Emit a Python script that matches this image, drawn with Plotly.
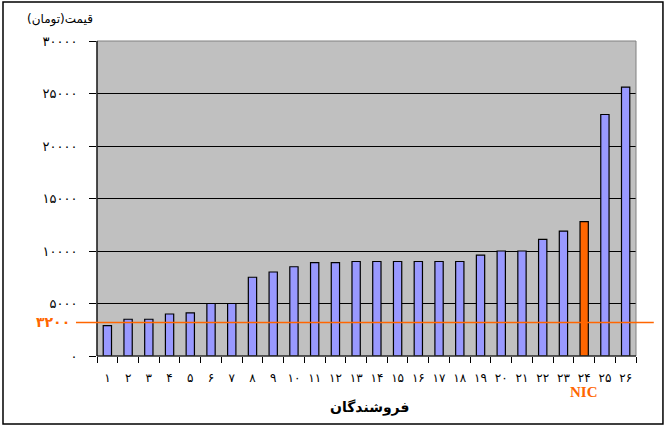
import plotly.graph_objects as go

# seller numbers (persian digits), price per seller
sellers = ["۱", "۲", "۳", "۴", "۵", "۶", "۷", "۸", "۹", "۱۰", "۱۱", "۱۲", "۱۳",
           "۱۴", "۱۵", "۱۶", "۱۷", "۱۸", "۱۹", "۲۰", "۲۱", "۲۲", "۲۳", "۲۴", "۲۵", "۲۶"]
prices = [2900, 3500, 3500, 4000, 4100, 5000, 5000, 7500, 8000, 8500, 8900, 8900, 9000,
          9000, 9000, 9000, 9000, 9000, 9600, 10000, 10000, 11100, 11900, 12800, 23000, 25600]
nic_seller = "۲۴"
reference_price = 3200
reference_label = "۳۲۰۰"

y_ticks = [0, 5000, 10000, 15000, 20000, 25000, 30000]
y_tick_labels = ["۰", "۵۰۰۰", "۱۰۰۰۰", "۱۵۰۰۰", "۲۰۰۰۰", "۲۵۰۰۰", "۳۰۰۰۰"]

ORANGE = "#FF6600"
colors = [ORANGE if s == nic_seller else "#9999FF" for s in sellers]

fig = go.Figure()
fig.add_trace(go.Bar(
    x=sellers, y=prices,
    marker=dict(color=colors, line=dict(color="black", width=1.2)),
))

fig.update_layout(
    width=669, height=430,
    margin=dict(l=97, r=33, t=41, b=74),
    paper_bgcolor="white",
    plot_bgcolor="#C0C0C0",
    bargap=0.6,
    showlegend=False,
    font=dict(family="DejaVu Sans", size=12, color="black"),
)

fig.update_xaxes(
    type="category",
    tickson="boundaries",
    ticks="outside", ticklen=6, tickcolor="black",
    showgrid=False, showline=False,
    tickangle=0,
    tickfont=dict(size=12),
    ticklabelstandoff=13,
)
fig.update_yaxes(
    range=[0, 30000],
    tickvals=y_ticks, ticktext=y_tick_labels,
    ticks="outside", ticklen=7, tickcolor="black",
    showgrid=True, gridcolor="black", gridwidth=1,
    zeroline=False, showline=False,
    tickfont=dict(size=13),
    ticklabelstandoff=9,
)

shapes = [
    # chart border
    dict(type="rect", xref="paper", yref="paper", x0=-0.1744, x1=1.050, y0=-0.2159, y1=1.1238,
         line=dict(color="black", width=1.5)),
    # plot area outline
    dict(type="rect", xref="paper", yref="paper", x0=0, x1=1, y0=0, y1=1,
         line=dict(color="#808080", width=1)),
    dict(type="line", xref="paper", yref="paper", x0=0, x1=0, y0=0, y1=1,
         line=dict(color="black", width=1.2)),
    dict(type="line", xref="paper", yref="paper", x0=0, x1=1, y0=0, y1=0,
         line=dict(color="black", width=1.2)),
    # reference price line
    dict(type="line", xref="paper", yref="y", x0=-0.039, x1=1.033,
         y0=reference_price, y1=reference_price,
         line=dict(color=ORANGE, width=1.5)),
]
fig.update_layout(shapes=shapes)

fig.add_annotation(text="قیمت(تومان)", xref="paper", yref="paper", x=-0.069, y=1.067,
                   xanchor="center", yanchor="middle", showarrow=False, font=dict(size=12))
fig.add_annotation(text="<b>فروشندگان</b>", xref="paper", yref="paper", x=0.506, y=-0.162,
                   xanchor="center", yanchor="middle", showarrow=False, font=dict(size=14))
fig.add_annotation(text="<b>" + reference_label + "</b>", xref="paper", yref="y",
                   x=-0.082, y=reference_price, xanchor="center", yanchor="middle",
                   showarrow=False, font=dict(size=14, color=ORANGE))
fig.add_annotation(text="<b>NIC</b>", xref="x", yref="paper", x=nic_seller, y=-0.114,
                   xanchor="center", yanchor="middle", showarrow=False,
                   font=dict(family="Liberation Serif", size=15, color=ORANGE))

fig.write_html("out.html", config={"displayModeBar": False},
               post_script="document.body.style.margin='0px';")
